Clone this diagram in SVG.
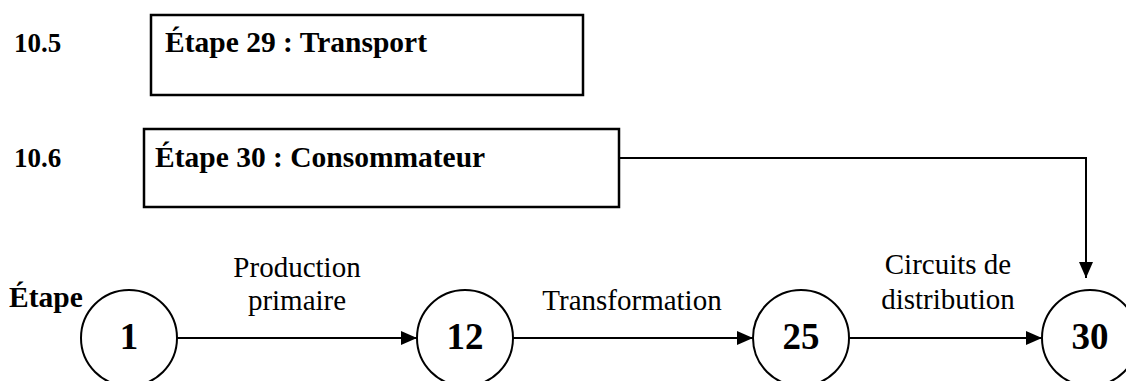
<svg xmlns="http://www.w3.org/2000/svg" width="1126" height="381" viewBox="0 0 1126 381">
  <style>
    .hdr { font-family: "Liberation Serif", "Times New Roman", serif; font-weight: bold; font-size: 29.5px; fill: #000; }
    .sec { font-family: "Liberation Serif", "Times New Roman", serif; font-weight: bold; font-size: 27px; fill: #000; }
    .lbl { font-family: "Liberation Serif", "Times New Roman", serif; font-size: 29px; fill: #000; }
    .num { font-family: "Liberation Serif", "Times New Roman", serif; font-weight: bold; font-size: 37px; fill: #000; text-anchor: middle; }
    .box { fill: #fff; stroke: #000; stroke-width: 2.5; }
    .node { fill: #fff; stroke: #000; stroke-width: 2; }
    .edge { fill: none; stroke: #000; stroke-width: 2; }
  </style>
  <defs>
    <marker id="arrow" markerUnits="userSpaceOnUse" markerWidth="16" markerHeight="14" refX="16" refY="7" orient="auto">
      <path d="M0,0 L16,7 L0,14 Z" fill="#000"/>
    </marker>
  </defs>

  <rect width="1126" height="381" fill="#fff"/>

  <!-- section numbers -->
  <text class="sec" x="14" y="52">10.5</text>
  <text class="sec" x="14" y="167">10.6</text>

  <!-- step boxes -->
  <g id="step29">
    <rect class="box" x="151" y="15" width="432" height="80"/>
    <text class="hdr" x="165" y="52">Étape 29 : Transport</text>
  </g>
  <g id="step30box">
    <rect class="box" x="144" y="129" width="475" height="78"/>
    <text class="hdr" x="155" y="167">Étape 30 : Consommateur</text>
  </g>

  <text class="hdr" x="9" y="307">Étape</text>

  <!-- step circles -->
  <g id="n1">
    <circle class="node" cx="129" cy="338" r="48"/>
    <text class="num" x="129" y="349">1</text>
  </g>
  <g id="n12">
    <circle class="node" cx="465" cy="338" r="48"/>
    <text class="num" x="465" y="349">12</text>
  </g>
  <g id="n25">
    <circle class="node" cx="801" cy="338" r="48"/>
    <text class="num" x="801" y="349">25</text>
  </g>
  <g id="n30">
    <circle class="node" cx="1090" cy="338" r="48"/>
    <text class="num" x="1090" y="349">30</text>
  </g>

  <!-- connectors -->
  <g id="connectors">
    <line class="edge" x1="177" y1="338" x2="417" y2="338" marker-end="url(#arrow)"/>
    <line class="edge" x1="513" y1="338" x2="753" y2="338" marker-end="url(#arrow)"/>
    <line class="edge" x1="849" y1="338" x2="1042" y2="338" marker-end="url(#arrow)"/>
    <polyline class="edge" points="619,158 1086,158 1086,278" marker-end="url(#arrow)"/>
    <text class="lbl" x="297" y="277" text-anchor="middle">Production</text>
    <text class="lbl" x="297" y="310" text-anchor="middle">primaire</text>
    <text class="lbl" x="632" y="310" text-anchor="middle">Transformation</text>
    <text class="lbl" x="948" y="274" text-anchor="middle">Circuits de</text>
    <text class="lbl" x="948" y="309" text-anchor="middle">distribution</text>
  </g>
</svg>
